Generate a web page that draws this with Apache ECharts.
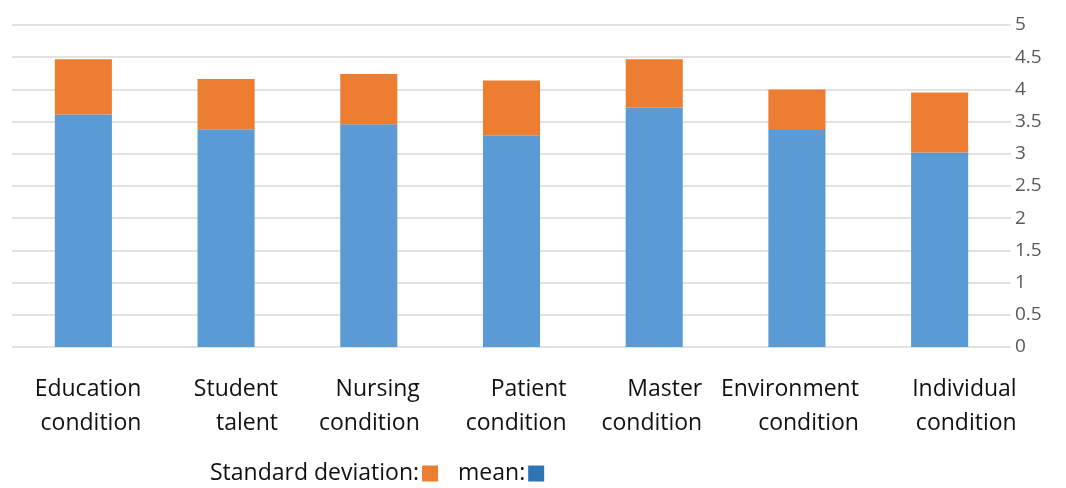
<!DOCTYPE html>
<html>
<head>
<meta charset="utf-8">
<script src="https://cdn.jsdelivr.net/npm/echarts@6/dist/echarts.min.js"></script>
<style>html,body{margin:0;padding:0;background:#fff}#c{width:1066px;height:488px}</style>
</head>
<body>
<div id="c"></div>
<script>
const categories = ['Education\ncondition', 'Student\ntalent', 'Nursing\ncondition', 'Patient\ncondition', 'Master\ncondition', 'Environment\ncondition', 'Individual\ncondition'];
const meanValues = [3.61, 3.38, 3.46, 3.28, 3.72, 3.37, 3.02];
const sdValues = [0.86, 0.78, 0.78, 0.86, 0.75, 0.63, 0.93];
const yTicks = [0, 0.5, 1, 1.5, 2, 2.5, 3, 3.5, 4, 4.5, 5];
// label block half-widths (right edge offset from bar centre), a layout setting
const labelRightOffset = [58, 52, 51, 55, 48, 62, 77];

const chart = echarts.init(document.getElementById('c'));
const font = '"Open Sans", sans-serif';
const rich = {};
labelRightOffset.forEach((o, i) => {
  rich['a' + i] = {fontFamily: font, fontSize: 23, color: '#111', width: 2 * o, align: 'right', lineHeight: 34};
});
chart.setOption({
  animation: false,
  grid: {left: 12, right: 55, top: 25, bottom: 141},
  legend: {
    bottom: -2, left: 205, align: 'right', itemGap: 20,
    itemWidth: 16, itemHeight: 16, icon: 'rect',
    textStyle: {fontFamily: font, fontSize: 23, color: '#111', padding: [0, -2, 0, 0]},
    data: [
      {name: 'Standard deviation:', itemStyle: {color: '#ed7d31'}},
      {name: 'mean:', itemStyle: {color: '#2e75b6'}}
    ]
  },
  xAxis: {
    type: 'category', data: categories,
    axisLine: {show: false}, axisTick: {show: false},
    axisLabel: {
      margin: 25, interval: 0,
      formatter: function (v, i) { return v.split('\n').map(s => '{a' + i + '|' + s + '}').join('\n'); },
      rich: rich
    }
  },
  yAxis: {
    type: 'value', position: 'right', min: 0, max: 5, interval: 0.5,
    axisLine: {show: false}, axisTick: {show: false},
    splitLine: {lineStyle: {color: '#d9d9d9', width: 1.5}},
    axisLabel: {margin: 4, align: 'left', fontFamily: font, fontSize: 19, color: '#595959',
      formatter: function (v) { return yTicks.includes(v) ? String(v) : ''; }}
  },
  series: [
    {name: 'mean:', type: 'bar', stack: 's', data: meanValues, barWidth: '40%',
      itemStyle: {color: '#5b9bd5'}},
    {name: 'Standard deviation:', type: 'bar', stack: 's', data: sdValues, barWidth: '40%',
      itemStyle: {color: '#ed7d31'}}
  ]
});
</script>
</body>
</html>
